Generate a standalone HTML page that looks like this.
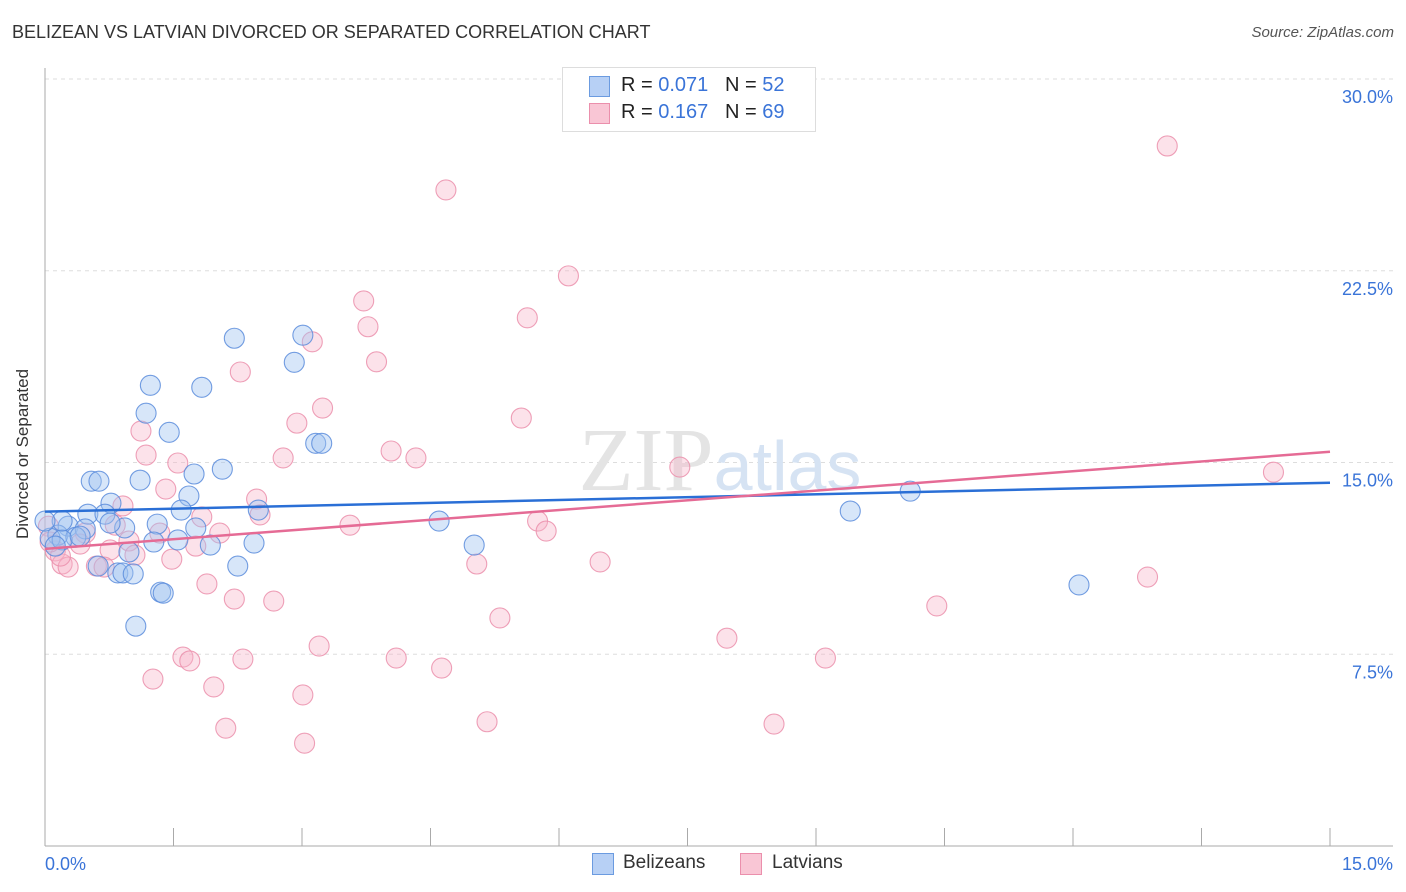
<!DOCTYPE html>
<html><head><meta charset="utf-8"><style>
body{margin:0;background:#fff;font-family:"Liberation Sans",sans-serif;}
#wrap{position:relative;width:1406px;height:892px;overflow:hidden;}
.t{position:absolute;white-space:nowrap;}
</style></head><body>
<div id="wrap">
<div class="t" style="left:12px;top:22px;font-size:18px;color:#333;">BELIZEAN VS LATVIAN DIVORCED OR SEPARATED CORRELATION CHART</div>
<div class="t" style="right:12px;top:24px;font-size:15px;color:#555;font-style:italic;">Source: ZipAtlas.com</div>
<div class="t" style="left:-62px;top:444px;font-size:17px;color:#333;transform:rotate(-90deg);">Divorced or Separated</div>
<svg id="svg" width="1406" height="892" style="position:absolute;left:0;top:0"></svg>
<div style="position:absolute;left:562px;top:67px;width:252px;height:63px;border:1px solid #ddd;background:#fff;">
 <div style="position:absolute;left:26px;top:8px;width:19px;height:19px;background:#b7d0f5;border:1px solid #6b9be0;"></div>
 <div class="t" style="left:58px;top:6px;font-size:20px;color:#222;">R = <span style="color:#3a74d8">0.071</span> &nbsp; N = <span style="color:#3a74d8">52</span></div>
 <div style="position:absolute;left:26px;top:35px;width:19px;height:19px;background:#f9c6d5;border:1px solid #eb8fac;"></div>
 <div class="t" style="left:58px;top:33px;font-size:20px;color:#222;">R = <span style="color:#3a74d8">0.167</span> &nbsp; N = <span style="color:#3a74d8">69</span></div>
</div>
<div>
 <div style="position:absolute;left:592px;top:853px;width:20px;height:20px;background:#b7d0f5;border:1px solid #6b9be0;"></div>
 <div class="t" style="left:623px;top:852px;font-size:19px;color:#333;">Belizeans</div>
 <div style="position:absolute;left:740px;top:853px;width:20px;height:20px;background:#f9c6d5;border:1px solid #eb8fac;"></div>
 <div class="t" style="left:772px;top:852px;font-size:19px;color:#333;">Latvians</div>
</div>
</div>
<script>
const X0=45,X1=1330,Y0=846,Y1=79;
function sx(v){return X0+(v/15)*(X1-X0);}
function sy(v){return Y0-(v/30)*(Y0-Y1);}
const xTickLabels=["0.0%","15.0%"];
const yTicks=[7.5,15,22.5,30];
const yTickLabels=["7.5%","15.0%","22.5%","30.0%"];
const blueX=[2.21,3.01,2.91,1.23,1.83,1.18,1.45,3.16,3.23,0.54,0.63,1.11,2.07,1.74,1.68,0.77,0.50,0.70,1.59,2.49,1.31,0.27,0.47,0.93,1.76,0.76,0.15,0.36,0.06,0.20,0.41,1.27,1.55,1.93,2.44,0.98,0.62,2.25,0.85,0.91,1.03,1.35,1.38,1.06,4.60,5.01,9.40,10.10,12.07,0.20,0.12,0.00];
const blueY=[19.86,19.98,18.92,18.02,17.94,16.93,16.18,15.75,15.75,14.27,14.27,14.31,14.74,14.55,13.69,13.41,12.98,12.98,13.14,13.14,12.59,12.51,12.40,12.44,12.44,12.63,12.16,12.08,12.04,11.97,12.12,11.89,11.97,11.77,11.85,11.50,10.95,10.95,10.68,10.68,10.64,9.93,9.89,8.60,12.71,11.77,13.10,13.88,10.21,12.71,11.73,12.71];
const pinkX=[13.10,4.68,6.11,3.72,5.63,3.77,3.12,3.87,2.28,3.24,5.56,2.94,1.12,1.18,1.55,4.04,4.33,2.78,7.41,14.34,1.41,2.47,0.91,1.83,2.51,0.47,0.82,3.56,5.75,5.85,2.04,1.34,0.98,0.41,0.76,1.05,1.76,0.12,0.04,0.20,0.27,0.60,0.69,1.48,5.04,6.48,1.89,2.21,2.67,12.87,10.41,5.31,7.96,3.20,1.61,1.69,2.31,4.10,9.11,4.63,1.26,1.97,3.01,5.16,8.51,2.11,3.03,0.18,0.06];
const pinkY=[27.38,25.66,22.30,21.32,20.66,20.31,19.72,18.94,18.54,17.13,16.74,16.54,16.23,15.29,14.98,15.45,15.18,15.18,14.82,14.62,13.96,13.57,13.30,12.87,12.95,12.24,12.55,12.55,12.71,12.32,12.24,12.24,11.93,11.81,11.58,11.38,11.73,11.54,12.51,11.03,10.91,10.95,10.91,11.22,11.03,11.11,10.25,9.66,9.58,10.52,9.39,8.92,8.13,7.82,7.39,7.24,7.31,7.35,7.35,6.96,6.53,6.22,5.91,4.86,4.77,4.61,4.02,11.34,11.89];
const blueTrend=[13.08,14.21];
const pinkTrend=[11.62,15.42];
const svg=document.getElementById('svg');
const NS='http://www.w3.org/2000/svg';
function mk(tag,attrs){const e=document.createElementNS(NS,tag);for(const k in attrs)e.setAttribute(k,attrs[k]);svg.appendChild(e);return e;}
yTicks.forEach((v,i)=>{
 const g=mk('line',{x1:X0,x2:1393,y1:sy(v),y2:sy(v),stroke:'#ddd','stroke-dasharray':'4,4'});
 
 
 const t=mk('text',{x:1393,y:sy(v)+24,'text-anchor':'end','font-size':18,fill:'#3a74d8','font-family':'Liberation Sans, sans-serif'});
 t.textContent=yTickLabels[i];
 
 
});
const ax=mk('line',{x1:X0,x2:X0,y1:68,y2:Y0,stroke:'#aaa'});


const bx=mk('line',{x1:X0,x2:1393,y1:Y0,y2:Y0,stroke:'#aaa'});


for(let i=0;i<=10;i++){const v=i*1.5;const tk=mk('line',{x1:sx(v),x2:sx(v),y1:828,y2:Y0,stroke:'#aaa'});
 
 }
[0,15].forEach((v,i)=>{const t=mk('text',{x:i?1393:45,y:870,'text-anchor':i?'end':'start','font-size':18,fill:'#3a74d8','font-family':'Liberation Sans, sans-serif'});t.textContent=xTickLabels[i];
 
 });
const wm=mk('text',{x:720,y:490,'text-anchor':'middle','font-size':90,fill:'#e4e4e4','font-family':'Liberation Serif, serif'});
wm.innerHTML='ZIP<tspan fill="#d6e3f3" font-family="Liberation Sans, sans-serif" font-size="70">atlas</tspan>';


pinkX.forEach((x,i)=>{const c=mk('circle',{cx:sx(x),cy:sy(pinkY[i]),r:10,fill:'rgba(248,180,200,0.38)',stroke:'rgba(235,143,172,0.85)','stroke-width':1.1});
 
 });
blueX.forEach((x,i)=>{const c=mk('circle',{cx:sx(x),cy:sy(blueY[i]),r:10,fill:'rgba(160,196,240,0.42)',stroke:'rgba(90,140,220,0.85)','stroke-width':1.1});
 
 });
const bl=mk('line',{x1:sx(0),x2:sx(15),y1:sy(blueTrend[0]),y2:sy(blueTrend[1]),stroke:'#2a6fd6','stroke-width':2.5});


const pl=mk('line',{x1:sx(0),x2:sx(15),y1:sy(pinkTrend[0]),y2:sy(pinkTrend[1]),stroke:'#e56b95','stroke-width':2.5});


</script>
</body></html>
